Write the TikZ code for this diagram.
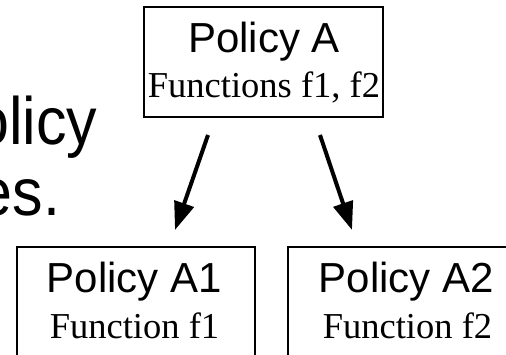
\documentclass[tikz,border=0pt]{standalone}
\usepackage{fontspec}
\setmainfont{Liberation Serif}
\setsansfont{Liberation Sans}
\usetikzlibrary{arrows.meta}
\tikzset{
  pbox/.style={draw=black, line width=1.8pt, inner sep=0pt},
  ptitle/.style={inner sep=0pt, anchor=base, font=\sffamily\fontsize{42}{48}\selectfont},
  psub/.style={inner sep=0pt, anchor=base, font=\rmfamily\fontsize{36.5}{42}\selectfont},
  bigtext/.style={inner sep=0pt, anchor=base east, font=\sffamily\fontsize{67}{72}\selectfont},
  parrow/.style={line width=4pt, -{Triangle[width=20pt,length=28pt]}}
}
\begin{document}
\begin{tikzpicture}[x=1pt,y=1pt]
\useasboundingbox (0,0) rectangle (506,-355);
\clip (0,0) rectangle (506,-355);
\fill[white] (0,0) rectangle (506,-355);
% partially visible slide text
\node[bigtext] (t1) at (97.5,-145) {\scalebox{0.91}[1]{olicy}};
\node[bigtext] (t2) at (60.5,-216) {\scalebox{0.91}[1]{es.}};
% top box
\node[pbox, minimum width=239pt, minimum height=110pt] (A) at (263.5,-62) {};
\node[ptitle] (Ah) at (264,-53) {Policy A};
\node[psub] (As) at (264,-98) {Functions f1, f2};
% lower boxes (cut off at the bottom / right)
\node[pbox, minimum width=238pt, minimum height=140pt] (A1) at (136,-317) {};
\node[ptitle] (A1h) at (134.5,-293) {Policy A1};
\node[psub] (A1s) at (134.5,-338) {Function f1};
\node[pbox, minimum width=238pt, minimum height=140pt] (A2) at (407,-317) {};
\node[ptitle] (A2h) at (406.5,-293) {Policy A2};
\node[psub] (A2s) at (407.5,-338) {Function f2};
% arrows
\coordinate (s1) at (208,-135);
\coordinate (e1) at (175,-230);
\coordinate (s2) at (320,-135);
\coordinate (e2) at (352,-230);
\draw[parrow] (s1) -- (e1);
\draw[parrow] (s2) -- (e2);
\end{tikzpicture}
\end{document}
